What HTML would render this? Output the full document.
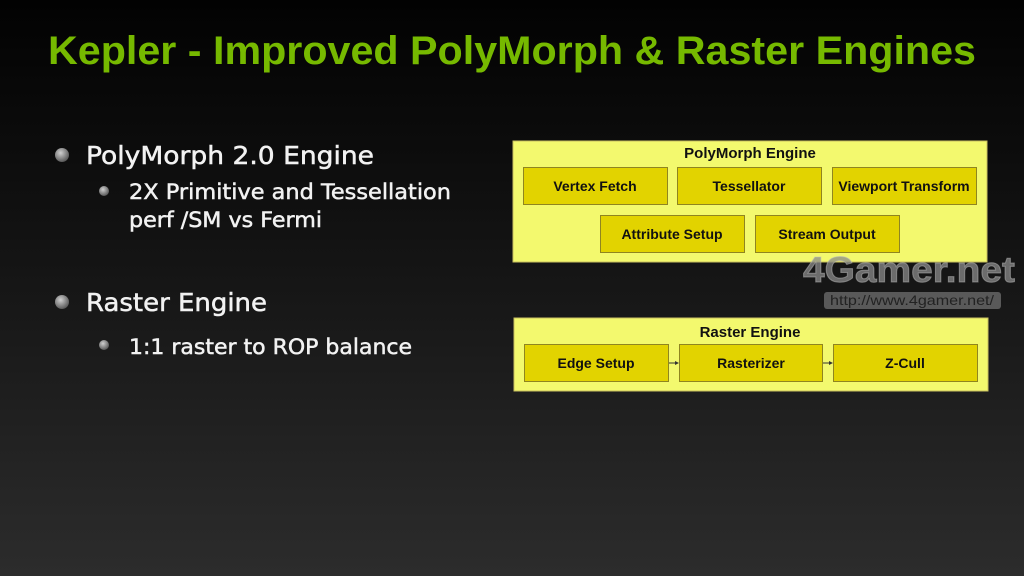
<!DOCTYPE html>
<html><head><style>
html,body{margin:0;padding:0;background:#000}
svg{display:block}
text{font-family:"Liberation Sans","DejaVu Sans",sans-serif}
.b{font-family:"DejaVu Sans","Liberation Sans",sans-serif}
</style></head><body>
<svg width="1024" height="576" viewBox="0 0 1024 576" xmlns="http://www.w3.org/2000/svg">
<defs>
<linearGradient id="bg" x1="0" y1="0" x2="0" y2="1">
<stop offset="0" stop-color="#020202"/><stop offset="0.45" stop-color="#141414"/><stop offset="1" stop-color="#2c2c2c"/>
</linearGradient>
<radialGradient id="ball" cx="0.4" cy="0.35" r="0.7">
<stop offset="0" stop-color="#d0d0d0"/><stop offset="1" stop-color="#505050"/>
</radialGradient>
</defs>
<rect width="1024" height="576" fill="url(#bg)"/>
<text x="48" y="64" font-size="40" font-weight="bold" fill="#76b900" textLength="928" lengthAdjust="spacingAndGlyphs">Kepler - Improved PolyMorph &amp; Raster Engines</text>

<g class="b" fill="#f2f2f2" stroke="#f2f2f2" stroke-width="0.5">
<text class="b" x="86" y="164" font-size="25" textLength="288" lengthAdjust="spacingAndGlyphs">PolyMorph 2.0 Engine</text>
<text class="b" x="129" y="199" font-size="21" textLength="322" lengthAdjust="spacingAndGlyphs">2X Primitive and Tessellation</text>
<text class="b" x="129" y="227" font-size="21" textLength="193" lengthAdjust="spacingAndGlyphs">perf /SM vs Fermi</text>
<text class="b" x="86" y="311" font-size="25" textLength="181" lengthAdjust="spacingAndGlyphs">Raster Engine</text>
<text class="b" x="129" y="354" font-size="21" textLength="283" lengthAdjust="spacingAndGlyphs">1:1 raster to ROP balance</text>
</g>
<circle cx="62" cy="155" r="7" fill="url(#ball)"/>
<circle cx="104" cy="191" r="5" fill="url(#ball)"/>
<circle cx="62" cy="302" r="7" fill="url(#ball)"/>
<circle cx="104" cy="345" r="5" fill="url(#ball)"/>

<g font-weight="bold" font-size="14" fill="#111" text-anchor="middle">
<rect x="513" y="141" width="474" height="121" fill="#f3f96e" stroke="#c8c060"/>
<text x="750" y="158" font-size="15">PolyMorph Engine</text>
<g fill="#e2d300" stroke="#8f8520" stroke-width="1">
<rect x="523.5" y="167.5" width="144" height="37"/>
<rect x="677.5" y="167.5" width="144" height="37"/>
<rect x="832.5" y="167.5" width="144" height="37"/>
<rect x="600.5" y="215.5" width="144" height="37"/>
<rect x="755.5" y="215.5" width="144" height="37"/>
</g>
<text x="595" y="191">Vertex Fetch</text>
<text x="749" y="191">Tessellator</text>
<text x="904" y="191">Viewport Transform</text>
<text x="672" y="239">Attribute Setup</text>
<text x="827" y="239">Stream Output</text>

<rect x="514" y="318" width="474" height="73" fill="#f3f96e" stroke="#c8c060"/>
<text x="750" y="337" font-size="15">Raster Engine</text>
<g fill="#e2d300" stroke="#8f8520" stroke-width="1">
<rect x="524.5" y="344.5" width="144" height="37"/>
<rect x="679.5" y="344.5" width="143" height="37"/>
<rect x="833.5" y="344.5" width="144" height="37"/>
</g>
<text x="596" y="368">Edge Setup</text>
<text x="751" y="368">Rasterizer</text>
<text x="905" y="368">Z-Cull</text>
<g stroke="#333" stroke-width="1"><line x1="669" y1="363" x2="676" y2="363"/><line x1="823" y1="363" x2="830" y2="363"/></g>
<g fill="#333" stroke="none"><polygon points="679,363 675,361 675,365"/><polygon points="833,363 829,361 829,365"/></g>
</g>

<text x="803" y="282" font-size="36" font-weight="bold" fill="#8a8a8a" fill-opacity="0.75" stroke="#bbb" stroke-opacity="0.5" stroke-width="1" textLength="212" lengthAdjust="spacingAndGlyphs">4Gamer.net</text>
<rect x="824" y="292" width="177" height="17" rx="3" fill="#6a6a6a" fill-opacity="0.8"/>
<text x="830" y="305" font-size="14" fill="#222" textLength="164" lengthAdjust="spacingAndGlyphs">http://www.4gamer.net/</text>
</svg>
</body></html>
